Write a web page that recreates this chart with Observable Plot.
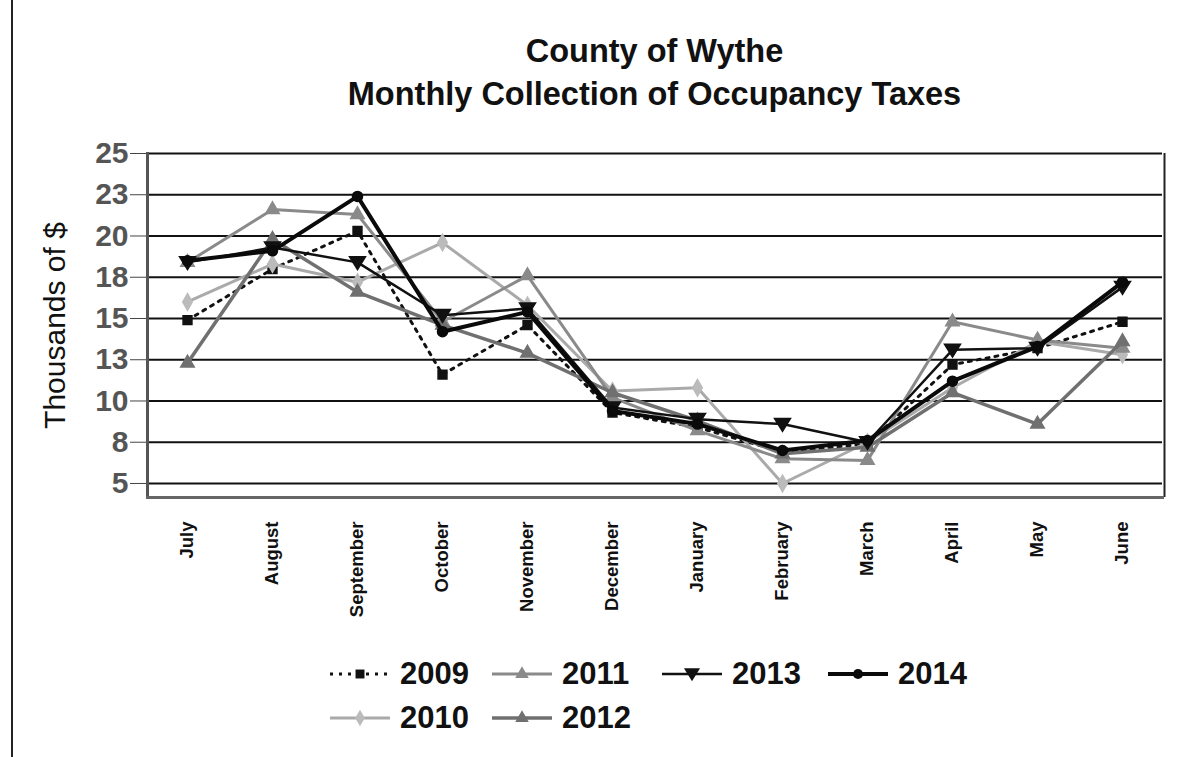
<!DOCTYPE html>
<html>
<head>
<meta charset="utf-8">
<script src="https://cdn.jsdelivr.net/npm/d3@7"></script>
<script src="https://cdn.jsdelivr.net/npm/@observablehq/plot@0.6"></script>
<style>
  html, body { margin: 0; padding: 0; background: #fff; }
  #wrap { position: relative; width: 1194px; height: 757px; box-sizing: border-box; font-family: "Liberation Sans", Arial, sans-serif; overflow: hidden; }
  #edge { position: absolute; left: 11px; top: 0; width: 0; height: 757px; border-left: 2px solid #222; }
  #title { position: absolute; left: 147px; width: 1015px; top: 30px; text-align: center; font-weight: bold; font-size: 32.5px; line-height: 43px; color: #111; }
  #chart { position: absolute; left: 0; top: 130px; }
  #legend { position: absolute; left: 0; top: 656px; width: 1194px; }
  .row { position: absolute; left: 328px; height: 44px; }
  .item { position: absolute; display: flex; align-items: center; font-weight: bold; font-size: 31px; color: #111; }
  .item svg { margin-right: 8px; }
</style>
</head>
<body>
<div id="wrap">
  <div id="edge"></div>
  <div id="title">County of Wythe<br>Monthly Collection of Occupancy Taxes</div>
  <div id="chart"></div>
  <div id="legend"></div>
</div>
<script>
const months = ["July","August","September","October","November","December","January","February","March","April","May","June"];
const years = ["2009","2010","2011","2012","2013","2014"];
const y2009 = [14.9, 18.0, 20.3, 11.6, 14.6, 9.3, 8.4, 6.9, 7.4, 12.2, 13.2, 14.8];
const y2010 = [16.0, 18.3, 17.2, 19.6, 15.8, 10.6, 10.8, 5.0, 7.5, 10.8, 13.6, 12.8];
const y2011 = [18.4, 21.6, 21.3, 14.8, 17.6, 10.2, 8.2, 6.5, 6.4, 14.8, 13.7, 13.2];
const y2012 = [12.3, 19.8, 16.6, 14.6, 12.9, 10.5, 8.8, 6.8, 7.2, 10.5, 8.6, 13.6];
const y2013 = [18.4, 19.3, 18.4, 15.2, 15.6, 9.6, 8.9, 8.6, 7.5, 13.1, 13.2, 16.9];
const y2014 = [18.5, 19.1, 22.4, 14.2, 15.4, 9.4, 8.6, 7.0, 7.6, 11.2, 13.3, 17.2];
const yTicks = [5, 7.5, 10, 12.5, 15, 17.5, 20, 22.5, 25];
const yTickLabels = ["5","8","10","13","15","18","20","23","25"];

const seriesValues = {"2009": y2009, "2010": y2010, "2011": y2011, "2012": y2012, "2013": y2013, "2014": y2014};
const data = years.flatMap(yr => months.map((m, i) => ({year: yr, month: m, value: seriesValues[yr][i]})));

const invTriangle = {
  draw(ctx, size) {
    const s = Math.sqrt(size) * 0.9;
    ctx.moveTo(-s, -s * 0.7);
    ctx.lineTo(s, -s * 0.7);
    ctx.lineTo(0, s * 0.9);
    ctx.closePath();
  }
};
const styles = {
  "2009": {stroke: "#111", dash: "3,6", symbol: "square", fill: "#111", width: 3},
  "2010": {stroke: "#aaa", dash: null, symbol: "diamond", fill: "#bbb", width: 3},
  "2011": {stroke: "#8a8a8a", dash: null, symbol: "triangle", fill: "#8a8a8a", width: 3},
  "2012": {stroke: "#707070", dash: null, symbol: "triangle", fill: "#707070", width: 3.5},
  "2013": {stroke: "#111", dash: null, symbol: invTriangle, fill: "#111", width: 2.5},
  "2014": {stroke: "#0a0a0a", dash: null, symbol: "circle", fill: "#0a0a0a", width: 4}
};

const marks = [
  Plot.ruleY(yTicks, {stroke: "#111", strokeWidth: 2}),
  Plot.ruleX([months[months.length - 1]], {dx: 42, stroke: "#222", strokeWidth: 2}),
  Plot.axisY({ticks: yTicks, tickFormat: (d) => yTickLabels[yTicks.indexOf(d)], tickSize: 17, tickPadding: 2, fontSize: 30, fontWeight: "bold", fill: "#555", stroke: "#444", label: null}),
  Plot.axisX({tickSize: 0, tickPadding: 24, tickRotate: -90, fontSize: 18.5, fontWeight: "bold", fill: "#111", label: null}),
  Plot.frame({anchor: "left", stroke: "#555", strokeWidth: 3}),
  Plot.frame({anchor: "bottom", stroke: "#666", strokeWidth: 3}),
  Plot.text(["Thousands of $"], {frameAnchor: "left", dx: -92, rotate: -90, textAnchor: "middle", fontSize: 30, fill: "#111"})
];
for (const yr of years) {
  const st = styles[yr];
  const d = data.filter(r => r.year === yr);
  marks.push(Plot.line(d, {x: "month", y: "value", stroke: st.stroke, strokeWidth: st.width, strokeDasharray: st.dash, strokeLinejoin: "round"}));
  marks.push(Plot.dot(d, {x: "month", y: "value", symbol: () => st.symbol, fill: st.fill, stroke: st.fill, r: 5}));
}

const chart = Plot.plot({
  width: 1194,
  height: 490,
  marginLeft: 147,
  marginRight: 32,
  marginTop: 23,
  marginBottom: 123,
  style: {fontFamily: "'Liberation Sans', Arial, sans-serif", background: "transparent"},
  x: {type: "point", domain: months, padding: 0.47},
  y: {domain: [4.15, 25]},
  marks
});
document.getElementById("chart").appendChild(chart);

const legendRows = [["2009","2011","2013","2014"],["2010","2012"]];
const colX = [0, 162, 332, 498];
const legend = document.getElementById("legend");
legendRows.forEach((row, ri) => {
  const r = document.createElement("div");
  r.className = "row";
  r.style.top = (ri * 44) + "px";
  row.forEach((yr, ci) => {
    const st = styles[yr];
    const it = document.createElement("div");
    it.className = "item";
    it.style.left = colX[ci] + "px";
    const sym = typeof st.symbol === "string" ? ({square: d3.symbolSquare, diamond: d3.symbolDiamond, triangle: d3.symbolTriangle, circle: d3.symbolCircle})[st.symbol] : st.symbol;
    const path = d3.symbol(sym, 80)();
    it.innerHTML = `<svg width="64" height="20"><line x1="2" x2="62" y1="10" y2="10" stroke="${st.stroke}" stroke-width="${st.width}" ${st.dash ? `stroke-dasharray="${st.dash}"` : ""}/><path transform="translate(32,10)" d="${path}" fill="${st.fill}"/></svg><span>${yr}</span>`;
    r.appendChild(it);
  });
  legend.appendChild(r);
});
</script>
</body>
</html>
